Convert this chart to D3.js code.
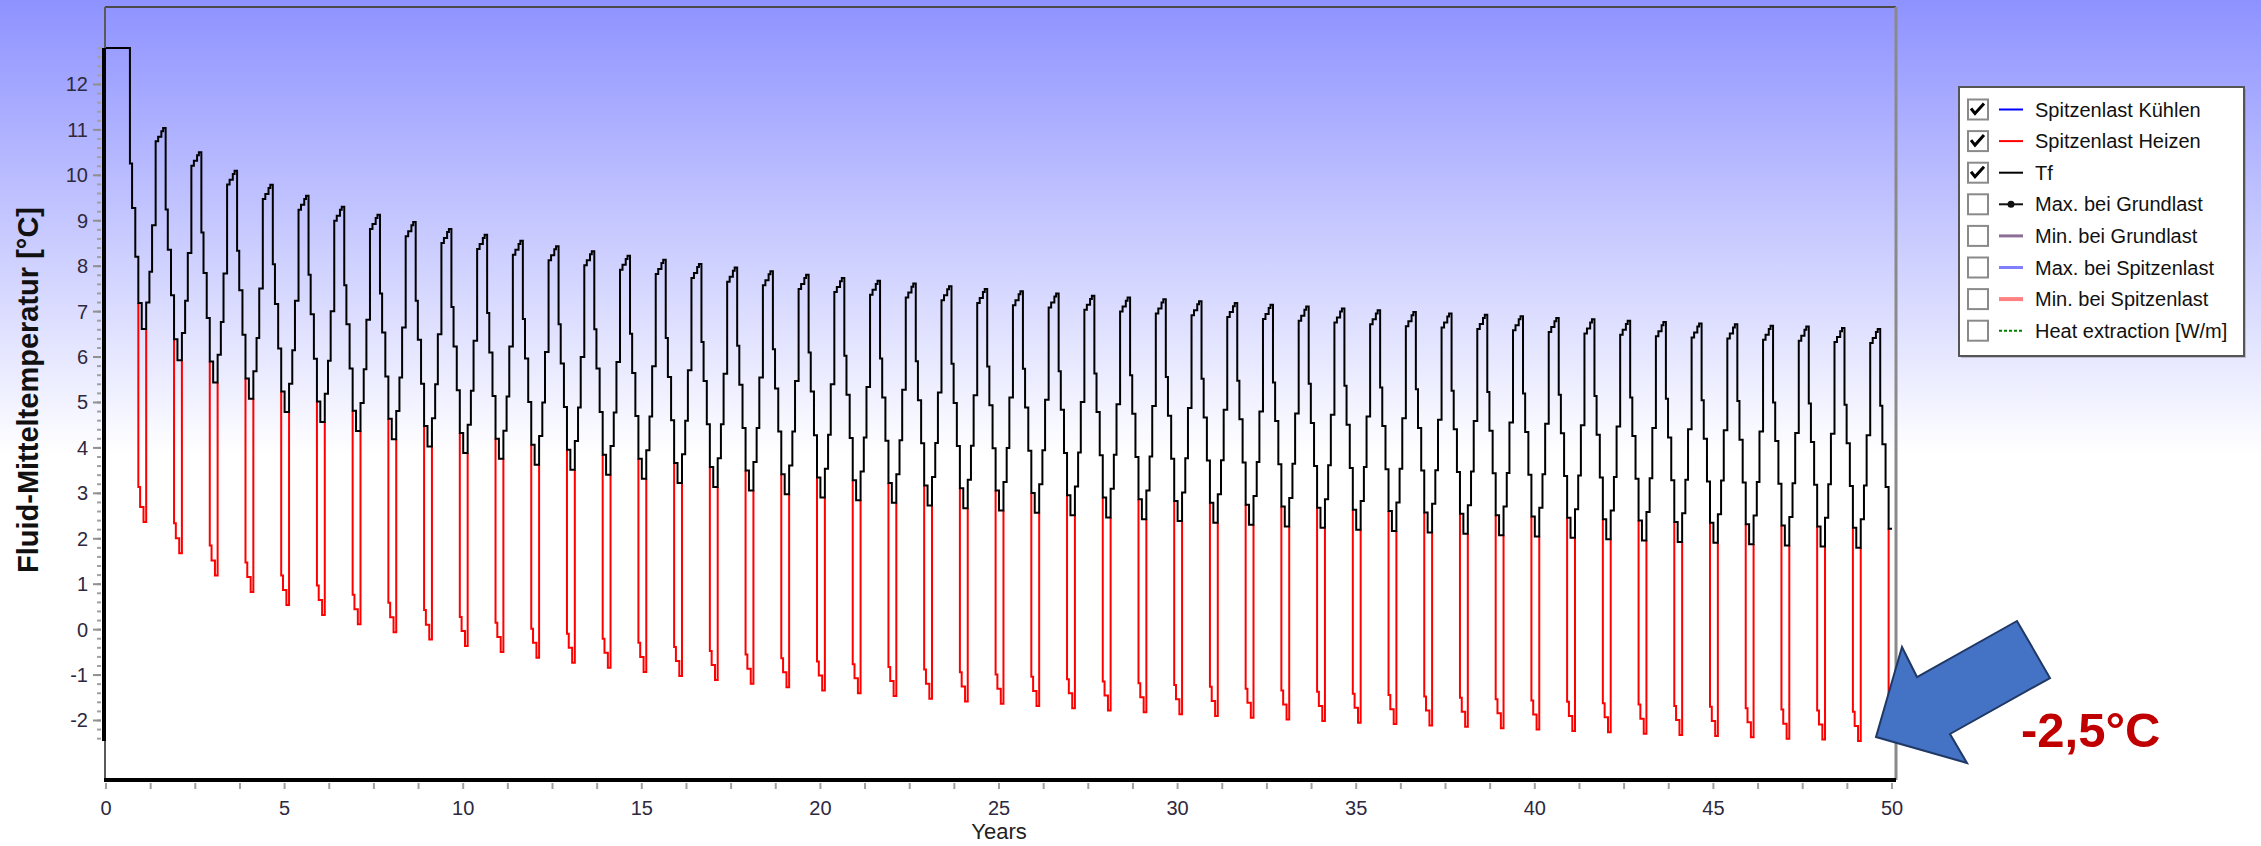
<!DOCTYPE html>
<html>
<head>
<meta charset="utf-8">
<script src="https://cdn.jsdelivr.net/npm/d3@7/dist/d3.min.js"></script>
<style>
  html, body { margin: 0; padding: 0; background: #fff; }
  svg { display: block; }
  text { font-family: "Liberation Sans", Arial, sans-serif; }
</style>
</head>
<body>
<svg id="chart" width="2261" height="846"></svg>
<script>
// Mean fluid temperature Tf [°C], one row per simulation year, one value per monthly step
const tfByYear = [
  [12.8,12.8,12.8,12.8,12.8,12.8,12.8,12.8,10.26,9.28,8.21,7.19],
  [6.62,7.20,7.88,8.90,10.75,10.85,10.97,11.04,9.25,8.36,7.36,6.39],
  [5.93,6.53,7.24,8.29,10.21,10.32,10.44,10.51,8.74,7.85,6.86,5.90],
  [5.44,6.05,6.77,7.84,9.80,9.90,10.03,10.10,8.34,7.47,6.49,5.53],
  [5.08,5.69,6.42,7.51,9.48,9.59,9.72,9.79,8.04,7.17,6.19,5.24],
  [4.79,5.41,6.15,7.24,9.24,9.35,9.48,9.55,7.81,6.94,5.96,5.02],
  [4.57,5.19,5.92,7.01,9.00,9.11,9.24,9.31,7.58,6.72,5.75,4.82],
  [4.37,4.99,5.73,6.82,8.82,8.93,9.06,9.13,7.40,6.54,5.57,4.64],
  [4.19,4.81,5.55,6.65,8.66,8.77,8.90,8.97,7.24,6.38,5.41,4.48],
  [4.03,4.65,5.40,6.50,8.51,8.62,8.75,8.82,7.10,6.23,5.27,4.33],
  [3.89,4.51,5.26,6.36,8.38,8.49,8.62,8.69,6.97,6.10,5.14,4.20],
  [3.76,4.38,5.13,6.23,8.25,8.36,8.49,8.56,6.84,5.97,5.01,4.07],
  [3.63,4.26,5.00,6.11,8.13,8.24,8.37,8.44,6.72,5.86,4.90,3.96],
  [3.52,4.15,4.89,6.00,8.02,8.13,8.26,8.33,6.61,5.75,4.79,3.85],
  [3.41,4.04,4.78,5.89,7.92,8.03,8.16,8.23,6.51,5.65,4.70,3.76],
  [3.32,3.95,4.69,5.80,7.83,7.94,8.07,8.14,6.42,5.56,4.61,3.67],
  [3.23,3.86,4.60,5.71,7.74,7.85,7.98,8.05,6.33,5.47,4.52,3.58],
  [3.14,3.77,4.52,5.63,7.66,7.77,7.90,7.97,6.25,5.39,4.44,3.50],
  [3.06,3.69,4.44,5.55,7.58,7.69,7.82,7.89,6.17,5.31,4.36,3.42],
  [2.98,3.61,4.36,5.47,7.50,7.61,7.74,7.81,6.10,5.24,4.28,3.35],
  [2.91,3.54,4.29,5.40,7.43,7.54,7.67,7.74,6.03,5.17,4.22,3.29],
  [2.85,3.48,4.23,5.34,7.37,7.48,7.61,7.68,5.97,5.11,4.16,3.23],
  [2.79,3.42,4.17,5.28,7.31,7.42,7.55,7.62,5.91,5.05,4.10,3.17],
  [2.73,3.36,4.11,5.22,7.25,7.36,7.49,7.56,5.85,4.99,4.04,3.11],
  [2.67,3.30,4.05,5.16,7.19,7.30,7.43,7.50,5.79,4.94,3.99,3.06],
  [2.62,3.25,4.00,5.11,7.14,7.25,7.38,7.45,5.74,4.89,3.94,3.01],
  [2.57,3.20,3.95,5.06,7.09,7.20,7.33,7.40,5.69,4.84,3.89,2.96],
  [2.52,3.15,3.90,5.01,7.04,7.15,7.28,7.35,5.64,4.79,3.84,2.91],
  [2.47,3.10,3.85,4.96,7.00,7.11,7.24,7.31,5.60,4.75,3.80,2.87],
  [2.43,3.06,3.81,4.92,6.96,7.07,7.20,7.27,5.56,4.71,3.76,2.83],
  [2.39,3.02,3.77,4.88,6.92,7.03,7.16,7.23,5.52,4.67,3.72,2.79],
  [2.35,2.98,3.73,4.84,6.88,6.99,7.12,7.19,5.48,4.63,3.68,2.75],
  [2.31,2.94,3.69,4.80,6.84,6.95,7.08,7.15,5.44,4.59,3.64,2.71],
  [2.27,2.90,3.65,4.76,6.80,6.91,7.04,7.11,5.41,4.55,3.60,2.68],
  [2.24,2.87,3.62,4.73,6.76,6.87,7.00,7.07,5.37,4.51,3.56,2.64],
  [2.20,2.83,3.58,4.69,6.72,6.83,6.96,7.03,5.33,4.48,3.53,2.61],
  [2.17,2.80,3.54,4.65,6.68,6.79,6.92,6.99,5.29,4.44,3.50,2.58],
  [2.14,2.77,3.51,4.62,6.65,6.76,6.89,6.96,5.26,4.41,3.47,2.55],
  [2.11,2.74,3.48,4.59,6.62,6.73,6.86,6.93,5.23,4.38,3.44,2.52],
  [2.08,2.71,3.45,4.56,6.59,6.70,6.83,6.90,5.20,4.35,3.41,2.49],
  [2.05,2.68,3.42,4.53,6.55,6.66,6.79,6.86,5.17,4.32,3.38,2.46],
  [2.02,2.65,3.39,4.50,6.52,6.63,6.76,6.83,5.14,4.29,3.35,2.43],
  [1.99,2.62,3.36,4.47,6.49,6.60,6.73,6.80,5.11,4.26,3.32,2.40],
  [1.96,2.59,3.33,4.44,6.46,6.57,6.70,6.77,5.08,4.23,3.29,2.37],
  [1.93,2.56,3.30,4.41,6.43,6.54,6.67,6.74,5.05,4.20,3.26,2.35],
  [1.91,2.54,3.28,4.39,6.41,6.52,6.65,6.72,5.03,4.18,3.24,2.32],
  [1.88,2.51,3.25,4.36,6.38,6.49,6.62,6.69,5.00,4.15,3.21,2.29],
  [1.85,2.48,3.22,4.33,6.36,6.47,6.60,6.67,4.98,4.13,3.19,2.27],
  [1.83,2.46,3.20,4.31,6.33,6.44,6.57,6.64,4.95,4.10,3.16,2.24],
  [1.80,2.43,3.17,4.28,6.31,6.42,6.55,6.62,4.93,4.08,3.14,2.22]
];
// start of each monthly step inside a year [fraction of year]
const monthStart = [0, 0.125, 0.215, 0.29, 0.39, 0.46, 0.55, 0.60, 0.67, 0.73, 0.82, 0.905];

// Peak heating temperatures around each turn of the year (years 1..50):
// first level (late previous year), second level, deepest level
const heatPeakA = [3.14,2.34,1.85,1.48,1.19,0.97,0.77,0.59,0.43,0.28,0.15,0.02,-0.09,-0.20,-0.29,-0.38,-0.47,-0.55,-0.63,-0.70,
  -0.76,-0.82,-0.88,-0.94,-0.99,-1.04,-1.09,-1.14,-1.18,-1.22,-1.26,-1.30,-1.34,-1.37,-1.41,-1.44,-1.47,-1.50,-1.53,-1.56,
  -1.59,-1.62,-1.65,-1.68,-1.70,-1.73,-1.76,-1.78,-1.81,-1.83];
const heatPeakB = [2.70,2.01,1.52,1.16,0.87,0.65,0.45,0.27,0.11,-0.03,-0.16,-0.29,-0.40,-0.51,-0.60,-0.69,-0.78,-0.86,-0.94,-1.01,
  -1.07,-1.13,-1.19,-1.25,-1.30,-1.35,-1.40,-1.45,-1.49,-1.53,-1.57,-1.61,-1.65,-1.68,-1.72,-1.75,-1.78,-1.81,-1.84,-1.87,
  -1.90,-1.93,-1.96,-1.99,-2.01,-2.04,-2.07,-2.09,-2.12];
const heatPeakC = [2.37,1.68,1.19,0.83,0.54,0.32,0.12,-0.06,-0.22,-0.36,-0.49,-0.62,-0.73,-0.84,-0.93,-1.02,-1.11,-1.19,-1.27,-1.34,
  -1.40,-1.46,-1.52,-1.58,-1.63,-1.68,-1.73,-1.78,-1.82,-1.86,-1.90,-1.94,-1.98,-2.01,-2.05,-2.08,-2.11,-2.14,-2.17,-2.20,
  -2.23,-2.26,-2.29,-2.32,-2.34,-2.37,-2.40,-2.42,-2.45];
// step times of a peak excursion relative to the turn of the year [years]
const peakSteps = [-0.095, -0.045, 0.05, 0.125];

const yearTicks = [0,5,10,15,20,25,30,35,40,45,50];
const tempTicks = [-2,-1,0,1,2,3,4,5,6,7,8,9,10,11,12];

const legendItems = [
  { label: "Spitzenlast Kühlen", checked: true, color: "#0000ff", width: 2 },
  { label: "Spitzenlast Heizen", checked: true, color: "#ff0000", width: 2 },
  { label: "Tf", checked: true, color: "#000000", width: 2 },
  { label: "Max. bei Grundlast", checked: false, color: "#111111", width: 2, dot: true },
  { label: "Min. bei Grundlast", checked: false, color: "#8c6e96", width: 3 },
  { label: "Max. bei Spitzenlast", checked: false, color: "#7f7fff", width: 3 },
  { label: "Min. bei Spitzenlast", checked: false, color: "#ff8080", width: 4 },
  { label: "Heat extraction [W/m]", checked: false, color: "#008000", width: 2, dash: "3,2" }
];

const W = 2261, H = 846;
const svg = d3.select("#chart");
const defs = svg.append("defs");
const grad = defs.append("linearGradient").attr("id", "bg")
  .attr("gradientUnits", "userSpaceOnUse").attr("x1", 0).attr("y1", 0).attr("x2", 0).attr("y2", 455);
grad.append("stop").attr("offset", 0).attr("stop-color", "#8e92ff");
grad.append("stop").attr("offset", 1).attr("stop-color", "#ffffff");
svg.append("rect").attr("width", W).attr("height", H).attr("fill", "url(#bg)");

const x = d3.scaleLinear().domain([0, 50]).range([106, 1892]);
const y = d3.scaleLinear().domain([-3.31, 13.705]).range([780, 7]);

// plot frame
svg.append("line").attr("x1", 105).attr("x2", 1896).attr("y1", 7).attr("y2", 7).attr("stroke", "#4a4a4a").attr("stroke-width", 2);
svg.append("line").attr("x1", 105).attr("x2", 105).attr("y1", 7).attr("y2", 780).attr("stroke", "#5a5a5a").attr("stroke-width", 2);
svg.append("line").attr("x1", 1896).attr("x2", 1896).attr("y1", 7).attr("y2", 780).attr("stroke", "#8a8a8a").attr("stroke-width", 3);

const stepLine = d3.line().x(d => x(d[0])).y(d => y(d[1])).curve(d3.curveStepAfter);

// Tf as (time, value) steps
const tfPts = [];
tfByYear.forEach((row, yr) => row.forEach((v, j) => tfPts.push([yr + monthStart[j], v])));
tfPts.push([50, tfByYear[tfByYear.length - 1][11]]);

// heating peak excursions, drawn beneath Tf
const red = svg.append("g");
heatPeakA.forEach((a, i) => {
  const k = i + 1;
  const before = tfByYear[k - 1][11];
  let pts;
  if (k < tfByYear.length) {
    const after = tfByYear[k][0];
    pts = [[k + peakSteps[0], before], [k + peakSteps[0], a], [k + peakSteps[1], heatPeakB[i]],
           [k + peakSteps[2], heatPeakC[i]], [k + peakSteps[3], after], [k + peakSteps[3], after]];
  } else {
    pts = [[k + peakSteps[0], before], [k + peakSteps[0], a], [k, a]];
  }
  red.append("path").attr("d", stepLine(pts)).attr("fill", "none")
    .attr("stroke", "#ff0000").attr("stroke-width", 2);
});

svg.append("path").attr("d", stepLine(tfPts)).attr("fill", "none").attr("stroke", "#000").attr("stroke-width", 2);

// axes: heavy lines span the data range
const allVals = tfPts.map(d => d[1]).concat(heatPeakA, heatPeakB, heatPeakC);
const [dataMin, dataMax] = d3.extent(allVals);
svg.append("line").attr("x1", 104).attr("x2", 104).attr("y1", y(dataMax)).attr("y2", y(dataMin)).attr("stroke", "#000").attr("stroke-width", 4);
svg.append("line").attr("x1", 104).attr("x2", 1896).attr("y1", 780).attr("y2", 780).attr("stroke", "#000").attr("stroke-width", 4);

const minorY = d3.range(Math.ceil(dataMin * 5), Math.floor(dataMax * 5) + 1).map(v => v / 5);
svg.append("g").selectAll("line").data(minorY).join("line")
  .attr("x1", 97).attr("x2", 101).attr("y1", d => y(d)).attr("y2", d => y(d))
  .attr("stroke", "#a0a0a0").attr("stroke-width", 2);
svg.append("g").selectAll("line").data(tempTicks).join("line")
  .attr("x1", 93).attr("x2", 101).attr("y1", d => y(d)).attr("y2", d => y(d))
  .attr("stroke", "#909090").attr("stroke-width", 2);
svg.append("g").selectAll("text").data(tempTicks).join("text")
  .attr("x", 88).attr("y", d => y(d) + 7).attr("text-anchor", "end")
  .attr("font-size", 20).attr("fill", "#2e2840").text(d => d);

const minorX = d3.range(0, 41).map(v => v * 1.25);
svg.append("g").selectAll("line").data(minorX).join("line")
  .attr("x1", d => x(d)).attr("x2", d => x(d)).attr("y1", 783).attr("y2", 789)
  .attr("stroke", "#a0a0a0").attr("stroke-width", 2);
svg.append("g").selectAll("text").data(yearTicks).join("text")
  .attr("x", d => x(d)).attr("y", 815).attr("text-anchor", "middle")
  .attr("font-size", 20).attr("fill", "#2e2840").text(d => d);

svg.append("text").attr("x", 999).attr("y", 839).attr("text-anchor", "middle")
  .attr("font-size", 22).attr("fill", "#222").text("Years");
svg.append("text").attr("transform", "translate(38,390) rotate(-90)").attr("text-anchor", "middle")
  .attr("font-size", 29).attr("font-weight", "bold").attr("fill", "#111").text("Fluid-Mitteltemperatur [°C]");

// legend
const lg = svg.append("g");
lg.append("rect").attr("x", 1961).attr("y", 89).attr("width", 285).attr("height", 269).attr("fill", "#6a6a80").attr("opacity", 0.35);
lg.append("rect").attr("x", 1959).attr("y", 87).attr("width", 285).attr("height", 269).attr("fill", "#fff").attr("stroke", "#555").attr("stroke-width", 2);
legendItems.forEach((d, i) => {
  const cy = 109.5 + i * 31.6;
  lg.append("rect").attr("x", 1968).attr("y", cy - 10).attr("width", 20).attr("height", 20)
    .attr("fill", "#fff").attr("stroke", "#8a8a8a").attr("stroke-width", 2);
  if (d.checked) {
    lg.append("path").attr("d", `M${1971},${cy - 1} L${1975},${cy + 4} L${1984},${cy - 6}`)
      .attr("fill", "none").attr("stroke", "#000").attr("stroke-width", 3);
  }
  lg.append("line").attr("x1", 1999).attr("x2", 2023).attr("y1", cy).attr("y2", cy)
    .attr("stroke", d.color).attr("stroke-width", d.width).attr("stroke-dasharray", d.dash || null);
  if (d.dot) lg.append("circle").attr("cx", 2011).attr("cy", cy).attr("r", 3.5).attr("fill", d.color);
  lg.append("text").attr("x", 2035).attr("y", cy + 7).attr("font-size", 20).attr("fill", "#111").text(d.label);
});

// annotation arrow pointing at the lowest peak temperature
const arrow = [[1876,737],[1902,647],[1917,677],[2017,621],[2050,678],[1950,734],[1967,763]];
svg.append("polygon").attr("points", arrow.map(p => p.join(",")).join(" "))
  .attr("fill", "#4472c4").attr("stroke", "#1f3864").attr("stroke-width", 2);
svg.append("text").attr("x", 2021).attr("y", 747).attr("font-size", 49).attr("font-weight", "bold")
  .attr("fill", "#c00000").text("-2,5°C");
</script>
</body>
</html>
